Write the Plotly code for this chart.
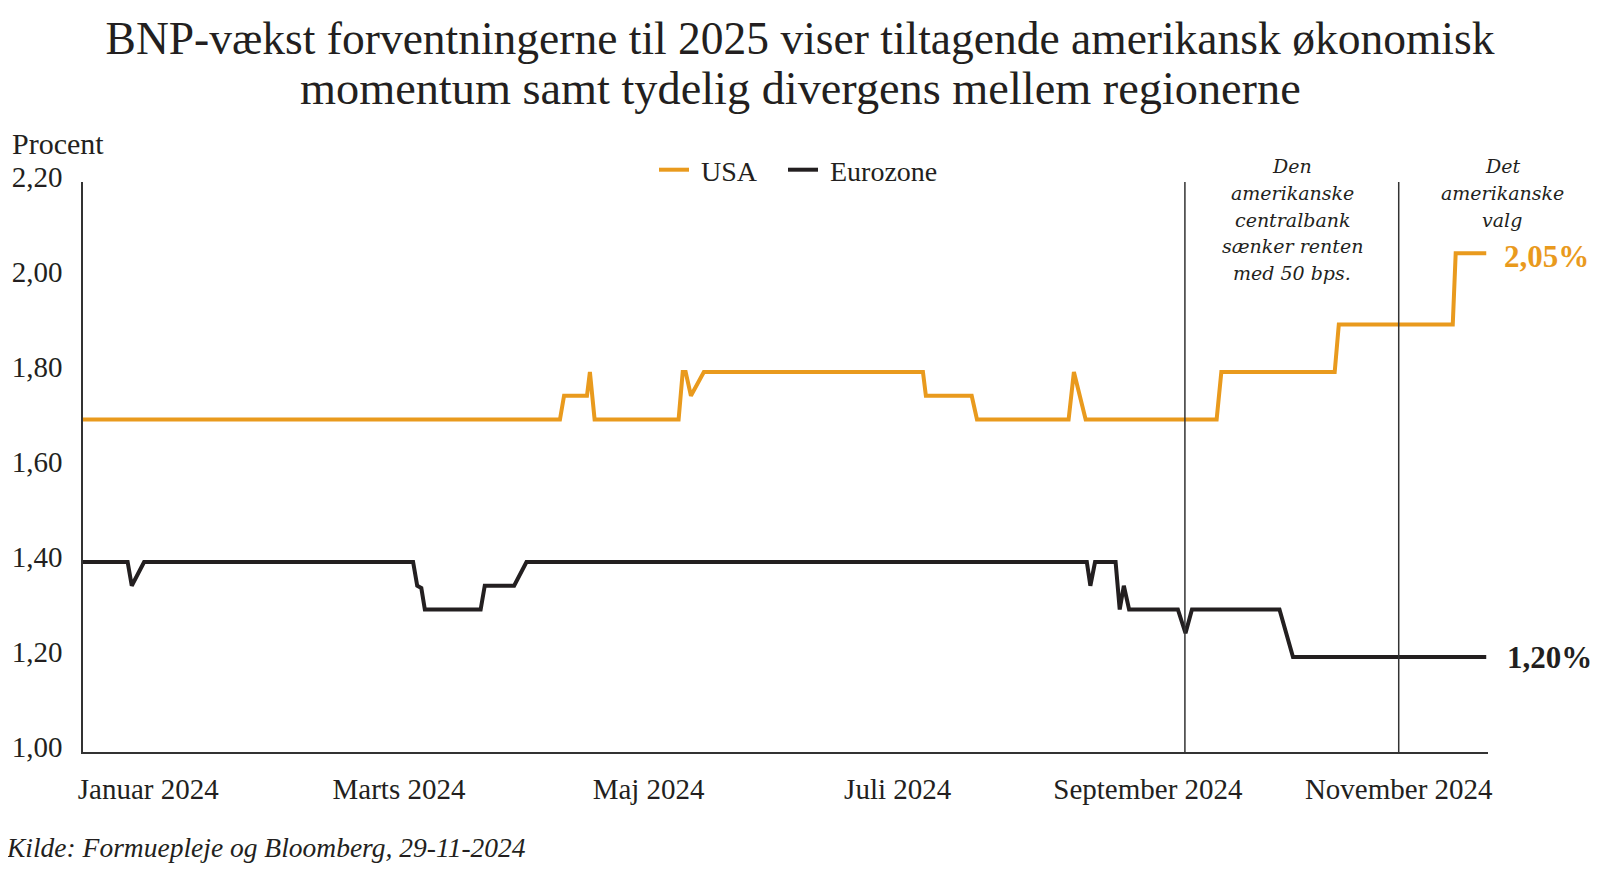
import plotly.graph_objects as go

# x er handelsdag nr., y er forventet BNP-vækst 2025 i procent
usa_x = [0, 81.2, 81.9, 85.8, 86.3, 87.1, 101.4, 102.1, 102.6, 103.5, 105.7, 143.0, 143.5,
         151.3, 152.2, 167.8, 168.7, 170.7, 193.0, 193.8, 213.1, 213.8, 233.2, 233.7, 238.9]
usa_y = [1.70, 1.70, 1.75, 1.75, 1.80, 1.70, 1.70, 1.80, 1.80, 1.75, 1.80, 1.80, 1.75,
         1.75, 1.70, 1.70, 1.80, 1.70, 1.70, 1.80, 1.80, 1.90, 1.90, 2.05, 2.05]

euro_x = [0, 7.6, 8.3, 10.4, 56.2, 56.9, 57.6, 58.2, 67.7, 68.4, 73.4, 75.5, 170.9, 171.5,
          172.3, 175.8, 176.5, 177.2, 178.1, 186.4, 187.7, 188.8, 203.7, 206.0, 238.9]
euro_y = [1.40, 1.40, 1.35, 1.40, 1.40, 1.35, 1.345, 1.30, 1.30, 1.35, 1.35, 1.40, 1.40, 1.35,
          1.40, 1.40, 1.30, 1.35, 1.30, 1.30, 1.25, 1.30, 1.30, 1.20, 1.20]

tick_pos = [11.1, 53.8, 96.3, 138.7, 181.3, 224.0]
tick_text = ['Januar 2024', 'Marts 2024', 'Maj 2024', 'Juli 2024', 'September 2024', 'November 2024']
y_ticks = [1.0, 1.2, 1.4, 1.6, 1.8, 2.0, 2.2]
y_text = ['1,00', '1,20', '1,40', '1,60', '1,80', '2,00', '2,20']

fed_cut = 187.6
election = 224.0
fed_text = ['Den', 'amerikanske', 'centralbank', 'sænker renten', 'med 50 bps.']
election_text = ['Det', 'amerikanske', 'valg']

ORANGE = '#E99A1D'
BLACK = '#231F20'
AXIS = '#333333'
FONT = 'Liberation Serif'
ITALIC = 'DejaVu Serif'

# siden har 8 px body-margen, så figuren er 8 px mindre og alle mål er forskudt
OFF = 8
W, H = 1599 - OFF, 883 - OFF
# plotområde i sidens koordinater: x 83-1488, y 182-752
L, R, T, B = 83 - OFF, 1488 - OFF, 182 - OFF, 752 - OFF


def px_x(p):
    return (p - OFF - L) / (R - L)


def px_y(p):
    return (B - (p - OFF)) / (B - T)


fig = go.Figure()
fig.add_trace(go.Scatter(x=usa_x, y=usa_y, mode='lines', name='\u00a0USA\u00a0\u00a0\u00a0',
                         line=dict(color=ORANGE, width=4)))
fig.add_trace(go.Scatter(x=euro_x, y=euro_y, mode='lines', name='\u00a0Eurozone',
                         line=dict(color=BLACK, width=4)))

for xv in [fed_cut, election]:
    fig.add_shape(type='line', x0=xv, x1=xv, y0=1.0, y1=2.2, xref='x', yref='y',
                  line=dict(color=AXIS, width=1.5))

fig.update_layout(
    width=W, height=H,
    paper_bgcolor='white', plot_bgcolor='white',
    margin=dict(l=L, r=W - R, t=T, b=H - B, autoexpand=False),
    font=dict(family=FONT, size=29, color=BLACK),
    title=dict(text='BNP-vækst forventningerne til 2025 viser tiltagende amerikansk økonomisk',
               x=(800 - OFF) / W, xanchor='center', y=1 - (38 - OFF) / H, yanchor='middle',
               font=dict(family=FONT, size=45.5, color=BLACK)),
    legend=dict(orientation='h', xref='container', yref='container', x=(654 - OFF) / W,
                y=1 - (170 - OFF) / H, xanchor='left', yanchor='middle', font=dict(size=28),
                itemwidth=30, bgcolor='rgba(0,0,0,0)'),
    showlegend=True,
)

fig.update_xaxes(range=[0, 239.2], tickvals=tick_pos, ticktext=tick_text, showgrid=False,
                 zeroline=False, showline=True, linecolor=AXIS, linewidth=1.5, ticks='',
                 ticklabelstandoff=10, fixedrange=True, automargin=False)
fig.update_yaxes(range=[1.0, 2.2], tickvals=y_ticks, ticktext=y_text, showgrid=False,
                 zeroline=False, showline=True, linecolor=AXIS, linewidth=1.5, ticks='',
                 ticklabelstandoff=13, ticklabelshift=-5, fixedrange=True, automargin=False)

fig.add_annotation(text='momentum samt tydelig divergens mellem regionerne', xref='paper', yref='paper',
                   x=px_x(800), y=px_y(89), xanchor='center', yanchor='middle', showarrow=False,
                   font=dict(size=46.3))
fig.add_annotation(text='Procent', xref='paper', yref='paper', x=px_x(10), y=px_y(143),
                   xanchor='left', yanchor='middle', showarrow=False, font=dict(size=30))
fig.add_annotation(text='2,05%', x=238.9, y=2.05, xshift=16, yshift=-3, xanchor='left', yanchor='middle',
                   showarrow=False, font=dict(size=31, color=ORANGE, weight='bold'))
fig.add_annotation(text='1,20%', x=238.9, y=1.20, xshift=19, xanchor='left', yanchor='middle',
                   showarrow=False, font=dict(size=31, color=BLACK, weight='bold'))

# kursive forklaringer, en linje ad gangen for at styre linjeafstanden
for lines, cx in [(fed_text, 1292), (election_text, 1502)]:
    for i, line in enumerate(lines):
        fig.add_annotation(text=line, xref='paper', yref='paper', x=px_x(cx), y=px_y(166 + i * 26.8),
                           xanchor='center', yanchor='middle', showarrow=False,
                           font=dict(family=ITALIC, size=19, style='italic'))

fig.add_annotation(text='Kilde: Formuepleje og Bloomberg, 29-11-2024', xref='paper', yref='paper',
                   x=px_x(4), y=px_y(847), xanchor='left', yanchor='middle',
                   showarrow=False, font=dict(size=27.5, style='italic'))

fig.write_html('out.html')
